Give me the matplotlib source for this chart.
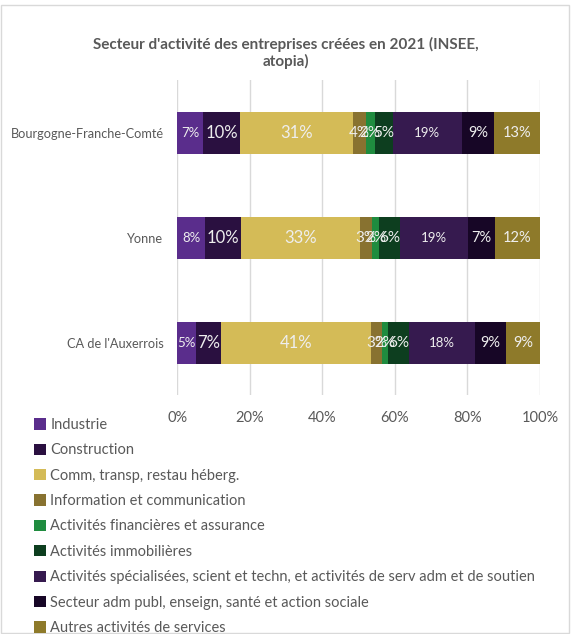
import numpy as np
from matplotlib import pyplot as plt
from matplotlib.patches import Patch, Rectangle

plt.rcParams['font.family'] = ['Lato', 'DejaVu Sans']

# categories (top to bottom)
zones = ['Bourgogne-Franche-Comté', 'Yonne', "CA de l'Auxerrois"]

sectors = ['Industrie',
           'Construction',
           'Comm, transp, restau héberg.',
           'Information et communication',
           'Activités financières et assurance',
           'Activités immobilières',
           'Activités spécialisées, scient et techn, et activités de serv adm et de soutien',
           'Secteur adm publ, enseign, santé et action sociale',
           'Autres activités de services']

# parts en % par zone, même ordre que sectors
bfc = [7.2, 10.1, 31.1, 3.6, 2.4, 5.0, 19.1, 8.7, 12.8]
yonne = [7.6, 10.0, 32.8, 3.4, 1.8, 5.9, 18.7, 7.4, 12.4]
auxerrois = [5.2, 6.9, 41.3, 3.0, 1.7, 5.9, 18.1, 8.6, 9.3]

colors = ['#5a2d8c', '#2a1040', '#d4bb57', '#887230', '#1f8c3f',
          '#0d3e1f', '#361a4f', '#170626', '#8e7a2a']
label_size = [9.5, 12, 12, 11, 11, 11, 9.5, 10.5, 10.5]

data = np.array([bfc, yonne, auxerrois])
data = data / data.sum(axis=1, keepdims=True) * 100

fig = plt.figure(figsize=(5.71, 6.34), dpi=100)
ax = fig.add_axes([0.3105, 0.3762, 0.6352, 0.497])

y = np.arange(len(zones))
left = np.zeros(len(zones))
for j, name in enumerate(sectors):
    vals = data[:, j]
    ax.barh(y, vals, left=left, height=0.4, color=colors[j], label=name, zorder=3)
    for i in range(len(zones)):
        ax.text(left[i] + vals[i] / 2, y[i], '{:.0f}%'.format(vals[i]),
                ha='center', va='center', color='#eeeeee',
                fontsize=label_size[j], zorder=4)
    left += vals

ax.set_xlim(0, 100)
ax.set_ylim(2.5, -0.5)
ax.set_xticks(np.arange(0, 101, 20))
ax.set_xticklabels(['{}%'.format(v) for v in range(0, 101, 20)])
ax.set_yticks(y)
ax.set_yticklabels(zones)
ax.tick_params(axis='x', length=0, colors='#595959', labelsize=10.5, pad=11)
ax.tick_params(axis='y', length=0, colors='#595959', labelsize=9.2, pad=10)
ax.grid(axis='x', color='#d9d9d9', linewidth=1, zorder=0)
for s in ax.spines.values():
    s.set_visible(False)

fig.text(0.5, 0.917, "Secteur d'activité des entreprises créées en 2021 (INSEE,\natopia)",
         ha='center', va='center', fontsize=11, fontweight='bold',
         color='#595959', linespacing=1.15)

handles = [Patch(facecolor=c, edgecolor='none') for c in colors]
fig.legend(handles, sectors, loc='upper left', bbox_to_anchor=(0.06, 1 - 418 / 634),
           frameon=False, fontsize=10.5, labelcolor='#595959',
           handlelength=0.8, handleheight=0.8, handletextpad=0.3,
           labelspacing=0.78, borderpad=0, borderaxespad=0)

fig.patches.append(Rectangle((0.002, 0.002), 0.994, 0.99, transform=fig.transFigure,
                             fill=False, edgecolor='#d9d9d9', linewidth=1))

fig.savefig('out.png', dpi=100)
